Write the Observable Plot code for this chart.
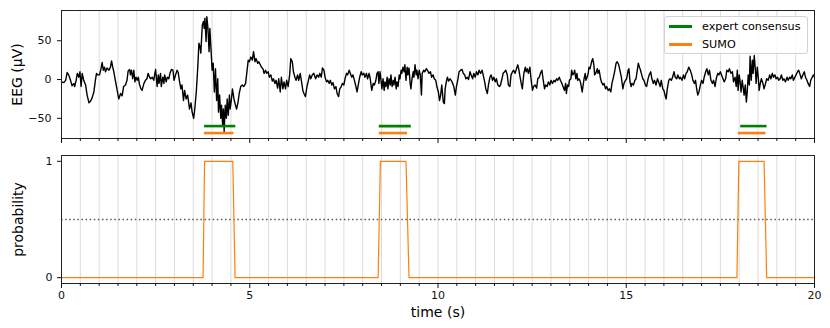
<!DOCTYPE html>
<html><head><meta charset="utf-8">
<script src="https://cdn.jsdelivr.net/npm/d3@7"></script>
<script src="https://cdn.jsdelivr.net/npm/@observablehq/plot@0.6"></script>
<style>
body{margin:0;background:#fff;font-family:"DejaVu Sans",sans-serif;}
#wrap{position:relative;width:830px;height:328px;overflow:hidden;}
#top,#bot{position:absolute;left:0;}
#top{top:0}#bot{top:145px}
#legend{position:absolute;left:664px;top:16px;width:144px;height:38px;border:1px solid #d3d3d3;border-radius:3px;background:rgba(255,255,255,0.8);font-size:11.2px;color:#000;box-sizing:border-box;}
#legend .sw{position:absolute;left:4px;width:23px;height:2.6px;}
#legend .lb{position:absolute;left:37px;line-height:13px;white-space:nowrap;}
</style></head>
<body><div id="wrap"><div id="top"></div><div id="bot"></div>
<div id="legend">
<div class="sw" style="top:8px;background:#008000"></div><div class="lb" style="top:2.5px">expert consensus</div>
<div class="sw" style="top:26px;background:#ff7f0e"></div><div class="lb" style="top:20.5px">SUMO</div>
</div></div>
<script>
// EEG samples: [time (s), amplitude (µV)]
const eegSamples = [
[0.00,-3],[0.06,-4],[0.11,-1],[0.15,9],[0.19,6],[0.24,-1],[0.28,-8],[0.33,-5],[0.35,-9],[0.39,-1],[0.42,8],[0.46,3],[0.49,10],[0.52,-9],[0.55,8],[0.59,-1],[0.64,-7],[0.68,-20],[0.73,-30],[0.77,-28],[0.81,-24],[0.86,-16],[0.90,-1],[0.93,8],[0.96,6],[1.01,6],[1.05,14],[1.08,22],[1.11,12],[1.14,16],[1.17,10],[1.21,15],[1.26,12],[1.30,16],[1.33,24],[1.36,16],[1.39,10],[1.43,-1],[1.48,-14],[1.52,-25],[1.57,-18],[1.61,-21],[1.65,-9],[1.70,-7],[1.74,-1],[1.77,11],[1.81,13],[1.83,6],[1.86,12],[1.89,1],[1.92,12],[1.95,-3],[1.98,3],[2.01,-1],[2.04,3],[2.07,-6],[2.11,-12],[2.14,-14],[2.19,-5],[2.23,-1],[2.27,1],[2.30,8],[2.34,3],[2.37,1],[2.41,3],[2.45,-1],[2.48,8],[2.50,13],[2.54,-9],[2.57,6],[2.59,-5],[2.63,8],[2.65,-9],[2.69,3],[2.72,-5],[2.74,6],[2.78,-3],[2.81,3],[2.85,1],[2.88,8],[2.92,13],[2.96,12],[2.99,-1],[3.03,6],[3.07,12],[3.10,9],[3.13,-1],[3.17,-12],[3.20,-7],[3.24,-27],[3.27,-14],[3.31,-25],[3.35,-20],
[3.37,-27],[3.40,-38],[3.44,-30],[3.47,-42],[3.51,-50],[3.54,-38],[3.58,-16],[3.62,16],[3.65,47],[3.68,42],[3.70,34],[3.74,70],[3.77,75],[3.79,66],[3.81,79],[3.84,49],[3.86,81],[3.89,66],[3.92,36],[3.94,66],[3.98,31],[4.00,12],[4.03,21],[4.06,-16],[4.09,14],[4.12,-27],[4.15,1],[4.17,-42],[4.20,-20],[4.23,-50],[4.25,-33],[4.28,-59],[4.30,-38],[4.32,-67],[4.35,-33],[4.38,-50],[4.40,-25],[4.43,-46],[4.46,-20],[4.48,-38],[4.51,-27],[4.54,-12],[4.58,-25],[4.61,-31],[4.65,-38],[4.69,-29],[4.72,-18],[4.76,-9],[4.80,-7],[4.84,-9],[4.89,-5],[4.92,8],[4.96,25],[4.99,23],[5.03,29],[5.07,25],[5.10,36],[5.14,23],[5.17,27],[5.21,21],[5.24,23],[5.28,19],[5.31,16],[5.35,14],[5.38,8],[5.42,12],[5.45,8],[5.49,10],[5.52,3],[5.56,6],[5.60,-2],[5.63,1],[5.67,-5],[5.70,-1],[5.74,-11],[5.77,1],[5.81,-16],[5.84,3],[5.88,-12],[5.91,-3],[5.95,-12],[5.98,-1],[6.02,-9],[6.06,6],[6.09,27],[6.13,23],[6.16,10],[6.20,3],[6.23,-1],[6.27,6],[6.30,-1],[6.34,8],[6.37,-1],[6.41,-14],[6.44,-18],[6.48,-22],[6.52,-9],[6.55,-3],[6.59,6],[6.62,1],[6.66,6],[6.70,8],
[6.75,1],[6.79,6],[6.83,3],[6.86,8],[6.90,3],[6.93,15],[6.97,12],[7.00,3],[7.04,-3],[7.07,-1],[7.11,-5],[7.14,-1],[7.18,-7],[7.21,-4],[7.25,-12],[7.29,-9],[7.32,-18],[7.36,-22],[7.39,-12],[7.43,-9],[7.46,-5],[7.50,-7],[7.53,1],[7.57,8],[7.60,6],[7.64,12],[7.67,8],[7.71,3],[7.74,6],[7.78,-1],[7.82,-9],[7.85,-16],[7.89,-5],[7.92,3],[7.96,10],[7.99,6],[8.03,8],[8.06,3],[8.10,8],[8.13,1],[8.17,8],[8.20,1],[8.24,-14],[8.28,-5],[8.31,-7],[8.35,-1],[8.38,8],[8.41,10],[8.43,-5],[8.46,10],[8.49,-3],[8.51,-12],[8.54,1],[8.57,-14],[8.59,-3],[8.62,-9],[8.65,3],[8.67,-12],[8.70,1],[8.73,-7],[8.75,6],[8.78,-9],[8.81,-1],[8.83,-7],[8.86,3],[8.89,-12],[8.91,-3],[8.94,-9],[8.97,6],[8.99,1],[9.02,12],[9.04,8],[9.07,16],[9.10,10],[9.12,19],[9.15,-1],[9.18,16],[9.20,6],[9.23,15],[9.26,-5],[9.28,-12],[9.31,1],[9.34,10],[9.36,3],[9.39,19],[9.42,6],[9.44,12],[9.47,1],[9.50,12],[9.53,6],[9.56,-20],[9.58,8],[9.62,12],[9.65,10],[9.69,14],[9.72,12],[9.76,8],[9.80,10],[9.83,3],[9.87,6],[9.90,1],[9.94,-1],[9.97,-9],[10.01,-16],[10.04,-27],
[10.07,-20],[10.10,-7],[10.14,-29],[10.17,-31],[10.19,-12],[10.22,-3],[10.25,3],[10.28,-2],[10.32,1],[10.35,-1],[10.39,-5],[10.42,-9],[10.46,-20],[10.49,-9],[10.53,1],[10.56,10],[10.60,12],[10.64,13],[10.67,8],[10.71,6],[10.74,1],[10.78,3],[10.81,0],[10.85,10],[10.88,6],[10.92,1],[10.95,8],[10.99,3],[11.02,10],[11.06,6],[11.09,12],[11.13,8],[11.17,12],[11.20,6],[11.24,-3],[11.27,-12],[11.31,-18],[11.34,-7],[11.38,3],[11.41,6],[11.45,-1],[11.48,3],[11.52,-3],[11.55,1],[11.59,-7],[11.63,-9],[11.66,-7],[11.70,1],[11.73,8],[11.77,10],[11.80,12],[11.84,6],[11.87,-7],[11.91,-9],[11.94,6],[11.98,10],[12.01,12],[12.05,8],[12.09,15],[12.12,19],[12.15,12],[12.17,6],[12.21,-5],[12.24,-12],[12.28,8],[12.32,16],[12.34,10],[12.37,14],[12.40,8],[12.44,16],[12.47,1],[12.51,-14],[12.54,-9],[12.58,-7],[12.62,-11],[12.65,1],[12.69,3],[12.72,8],[12.76,12],[12.79,1],[12.83,-12],[12.86,-7],[12.90,-9],[12.93,-3],[12.97,-7],[13.00,-1],[13.04,-5],[13.08,-1],[13.11,-3],[13.15,1],[13.18,-1],[13.22,3],[13.25,-1],[13.29,-5],[13.32,-9],[13.36,-14],
[13.39,-5],[13.41,-18],[13.44,-7],[13.47,-9],[13.49,-1],[13.53,1],[13.55,12],[13.58,6],[13.61,8],[13.63,12],[13.66,1],[13.69,8],[13.71,-1],[13.74,1],[13.77,-1],[13.79,-5],[13.83,-16],[13.85,-9],[13.88,1],[13.91,8],[13.93,-1],[13.96,3],[13.99,8],[14.01,16],[14.04,14],[14.08,23],[14.11,27],[14.14,19],[14.16,6],[14.19,8],[14.23,14],[14.25,8],[14.28,12],[14.31,3],[14.34,-3],[14.38,-7],[14.41,-5],[14.45,-12],[14.48,-9],[14.52,-14],[14.55,-12],[14.59,-16],[14.62,-5],[14.66,3],[14.69,10],[14.73,21],[14.76,23],[14.80,19],[14.84,10],[14.87,3],[14.91,-12],[14.94,-5],[14.98,-1],[15.01,1],[15.05,12],[15.07,14],[15.10,-3],[15.13,-9],[15.15,-5],[15.19,-7],[15.23,-1],[15.26,1],[15.30,14],[15.32,21],[15.35,16],[15.38,12],[15.40,8],[15.44,1],[15.47,-1],[15.51,-7],[15.54,-9],[15.58,1],[15.61,6],[15.65,10],[15.68,1],[15.72,-5],[15.75,-1],[15.79,-7],[15.83,1],[15.86,-3],[15.90,-9],[15.93,-1],[15.97,-12],[16.00,-14],[16.04,-22],[16.06,-25],[16.09,-12],[16.13,-1],[16.16,1],[16.20,-1],[16.23,3],[16.27,10],[16.30,3],[16.34,1],[16.37,6],[16.41,1],[16.44,3],[16.48,-1],[16.52,6],[16.55,1],[16.59,8],[16.62,10],[16.66,16],
[16.70,12],[16.74,6],[16.77,-1],[16.81,-5],[16.84,-1],[16.87,-12],[16.90,-20],[16.93,-16],[16.97,-7],[17.00,-1],[17.04,-5],[17.07,3],[17.11,10],[17.14,14],[17.18,6],[17.21,12],[17.25,-1],[17.29,-5],[17.32,-1],[17.36,-9],[17.39,1],[17.43,8],[17.46,6],[17.50,10],[17.53,6],[17.57,1],[17.60,-3],[17.64,1],[17.67,12],[17.71,10],[17.74,14],[17.78,8],[17.82,10],[17.85,-3],[17.89,3],[17.92,-9],[17.95,12],[17.97,-14],[18.00,6],[18.03,-5],[18.05,-16],[18.08,-1],[18.11,-12],[18.13,-20],[18.16,-7],[18.19,-29],[18.21,-18],[18.24,6],[18.27,-7],[18.29,30],[18.32,-1],[18.35,25],[18.37,8],[18.40,31],[18.43,12],[18.45,-5],[18.48,16],[18.51,1],[18.53,-14],[18.56,-5],[18.59,1],[18.63,-5],[18.66,-12],[18.70,-5],[18.73,1],[18.77,-1],[18.81,6],[18.84,1],[18.88,8],[18.91,3],[18.95,6],[18.98,1],[19.02,3],[19.05,-1],[19.09,1],[19.12,6],[19.16,-1],[19.19,1],[19.23,-3],[19.27,3],[19.30,-1],[19.34,3],[19.37,1],[19.41,6],[19.44,-1],[19.48,3],[19.51,6],[19.55,10],[19.58,12],[19.62,6],[19.65,1],[19.69,6],[19.73,10],[19.76,3],[19.80,-1],[19.83,-5],[19.87,-9],[19.90,-1],[19.94,3],[19.97,6],[20.00,3]
];

// Detected events (s)
const expertStart = [3.80, 8.44, 18.04];
const expertEnd   = [4.63, 9.29, 18.74];
const sumoStart   = [3.80, 8.44, 17.98];
const sumoEnd     = [4.58, 9.19, 18.71];
const expertLevel = -60;   // µV, where the bars sit
const sumoLevel = -69;

// SUMO probability trace
const probTime  = [0, 3.76, 3.80, 4.55, 4.61, 8.41, 8.47, 9.15, 9.23, 17.94, 17.99, 18.66, 18.73, 20];
const probValue = [0, 0,    1,    1,    0,    0,    1,    1,    0,    0,     1,     1,     0,     0];
const threshold = 0.5;

// Axis ticks
const xMajor = [0, 5, 10, 15, 20];
const xMinor = d3.range(0, 20.01, 0.5).filter(t => t % 5 !== 0);
const xGrid = d3.range(0, 20.01, 0.5);
const eegTicks = [-50, 0, 50];
const probTicks = [0, 1];

const eeg = eegSamples.map(([t, v]) => ({t, v}));
const expert = expertStart.map((s, i) => ({start: s, end: expertEnd[i]}));
const sumo = sumoStart.map((s, i) => ({start: s, end: sumoEnd[i]}));
const prob = probTime.map((t, i) => ({t, p: probValue[i]}));

const blank = () => "";
const style = {fontFamily: "DejaVu Sans", fontSize: "11px", color: "#111", background: "transparent", overflow: "visible"};
const gridColor = "#dcdcdc";

const topPlot = Plot.plot({
  width: 830, height: 145,
  marginTop: 10, marginBottom: 7, marginLeft: 61, marginRight: 16,
  x: {domain: [0, 20]},
  y: {domain: [-76, 89]},
  style,
  marks: [
    Plot.ruleX(xGrid, {stroke: gridColor, strokeWidth: 1}),
    Plot.line(eeg, {x: "t", y: "v", stroke: "#000", strokeWidth: 1.4}),
    Plot.ruleY(expert, {x1: "start", x2: "end", y: () => expertLevel, stroke: "#008000", strokeWidth: 2.6}),
    Plot.ruleY(sumo, {x1: "start", x2: "end", y: () => sumoLevel, stroke: "#ff7f0e", strokeWidth: 2.6}),
    Plot.frame({stroke: "#222", strokeWidth: 1}),
    Plot.axisY({ticks: eegTicks, tickSize: 4, tickPadding: 6, label: null}),
    Plot.axisX({ticks: xMajor, tickSize: 5, tickFormat: blank, label: null}),
    Plot.axisX({ticks: xMinor, tickSize: 3, tickFormat: blank, label: null}),
    Plot.text(["EEG (µV)"], {frameAnchor: "left", rotate: -90, dx: -43.5, textAnchor: "middle", lineAnchor: "middle", fontSize: 14, fill: "#000"})
  ]
});

const botPlot = Plot.plot({
  width: 830, height: 183,
  marginTop: 10, marginBottom: 45, marginLeft: 61, marginRight: 16,
  x: {domain: [0, 20]},
  y: {domain: [-0.05, 1.05]},
  style,
  marks: [
    Plot.ruleX(xGrid, {stroke: gridColor, strokeWidth: 1}),
    Plot.ruleY([threshold], {stroke: "#555", strokeWidth: 1.5, strokeDasharray: "1.5,2.6"}),
    Plot.line(prob, {x: "t", y: "p", stroke: "#ff7f0e", strokeWidth: 1.2}),
    Plot.frame({stroke: "#222", strokeWidth: 1}),
    Plot.axisY({ticks: probTicks, tickSize: 4, tickPadding: 5, label: null, tickFormat: d3.format("d")}),
    Plot.axisX({ticks: xMajor, tickSize: 5, tickPadding: 3, tickFormat: d3.format("d"), label: null}),
    Plot.axisX({ticks: xMinor, tickSize: 3, tickFormat: blank, label: null}),
    Plot.text(["probability"], {frameAnchor: "left", rotate: -90, dx: -42.5, textAnchor: "middle", lineAnchor: "middle", fontSize: 14, fill: "#000"}),
    Plot.text(["time (s)"], {frameAnchor: "bottom", dy: 29, textAnchor: "middle", lineAnchor: "middle", fontSize: 14, fill: "#000"})
  ]
});

document.getElementById("top").appendChild(topPlot);
document.getElementById("bot").appendChild(botPlot);
</script></body></html>
